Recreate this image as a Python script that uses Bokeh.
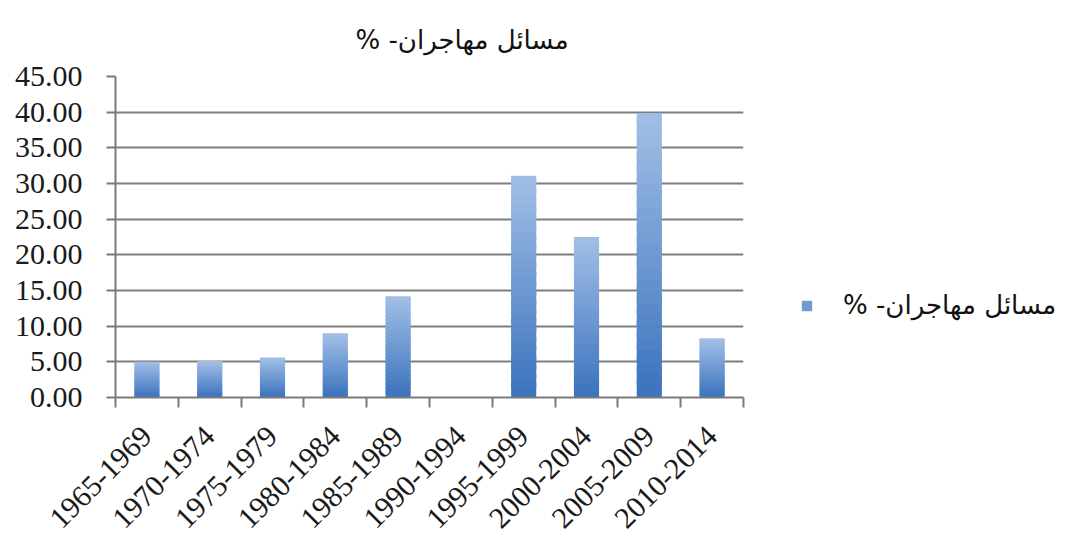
from bokeh.plotting import figure
from bokeh.models import (ColumnDataSource, FixedTicker, NumeralTickFormatter,
                          Legend, LegendItem, Range1d)
from bokeh.embed import file_html
from bokeh.resources import INLINE

categories = ["1965-1969", "1970-1974", "1975-1979", "1980-1984", "1985-1989",
              "1990-1994", "1995-1999", "2000-2004", "2005-2009", "2010-2014"]
values = [5.0, 5.1, 5.6, 9.0, 14.2, 0.0, 31.1, 22.5, 39.9, 8.3]
series_name = "مسائل مهاجران- %"
RLM = "\u200f"  # keep right-to-left display order like the reference
y_ticks = [0, 5, 10, 15, 20, 25, 30, 35, 40, 45]

TOP = (0xA2, 0xC0, 0xE6)
BOT = (0x3A, 0x72, 0xBD)
N = 24

def mix(t):
    r = [int(round(BOT[i] + (TOP[i] - BOT[i]) * t)) for i in range(3)]
    return "#%02x%02x%02x" % tuple(r)

xs, bots, tops, cols = [], [], [], []
for i, v in enumerate(values):
    if v <= 0:
        continue
    for k in range(N):
        xs.append(i + 0.5)
        bots.append(v * k / N)
        tops.append(v * (k + 1) / N + (0 if k == N - 1 else v * 0.6 / N))
        cols.append(mix((k + 0.5) / N))
src = ColumnDataSource(dict(x=xs, bottom=bots, top=tops, color=cols))

p = figure(frame_width=628, frame_height=321, output_backend="svg",
           toolbar_location=None,
           x_range=Range1d(0, len(categories)), y_range=Range1d(0, 45),
           min_border_left=115, min_border_top=76, min_border_bottom=129,
           min_border_right=0)
p.outline_line_color = None
p.background_fill_color = "white"

r = p.vbar(x="x", bottom="bottom", top="top", width=0.4, fill_color="color",
           line_color=None, source=src)

grey = "#7a7a7a"
FONT = "Liberation Serif"
p.xaxis.ticker = FixedTicker(ticks=[i + 0.5 for i in range(len(categories))],
                             minor_ticks=list(range(len(categories) + 1)))
p.xaxis.major_label_overrides = {i + 0.5: c for i, c in enumerate(categories)}
p.xaxis.major_label_orientation = 0.785
p.xaxis.major_tick_out = 0
p.xaxis.major_tick_in = 0
p.xaxis.minor_tick_out = 10
p.xaxis.minor_tick_in = 0
p.xaxis.minor_tick_line_color = grey
p.xaxis.minor_tick_line_width = 2
p.xaxis.axis_line_color = grey
p.xaxis.axis_line_width = 2
p.xaxis.major_label_text_font = FONT
p.xaxis.major_label_text_font_size = "30px"
p.xaxis.major_label_text_color = "#1a1a1a"
p.xaxis.major_label_standoff = 24

p.yaxis.ticker = FixedTicker(ticks=y_ticks)
p.yaxis.formatter = NumeralTickFormatter(format="0.00")
p.yaxis.major_tick_out = 9
p.yaxis.major_tick_in = 0
p.yaxis.minor_tick_out = 0
p.yaxis.major_tick_line_color = grey
p.yaxis.major_tick_line_width = 2
p.yaxis.axis_line_color = grey
p.yaxis.axis_line_width = 2
p.yaxis.major_label_text_font = FONT
p.yaxis.major_label_text_font_size = "30px"
p.yaxis.major_label_text_color = "#1a1a1a"
p.yaxis.major_label_standoff = 24

p.xgrid.grid_line_color = None
p.ygrid.ticker = FixedTicker(ticks=y_ticks)
p.ygrid.grid_line_color = "#7e7e7e"
p.ygrid.grid_line_width = 2

p.title.text = series_name + RLM
p.title.align = "left"
p.title.offset = 240
p.title.text_font = "DejaVu Sans"
p.title.text_font_size = "26px"
p.title.text_font_style = "normal"
p.title.text_color = "#111111"
p.title.standoff = 40
p.title.vertical_align = "top"
p.title.text_line_height = 1.7

legend = Legend(items=[LegendItem(label=series_name + RLM, renderers=[r], index=N // 2)],
                location=(57, 77), glyph_width=13, glyph_height=13, margin=0,
                label_text_font="DejaVu Sans", label_text_font_size="26px",
                label_text_color="#111111", border_line_color=None,
                background_fill_alpha=0, label_standoff=30)
p.add_layout(legend, "right")

open("out.html", "w").write(file_html(p, INLINE))
